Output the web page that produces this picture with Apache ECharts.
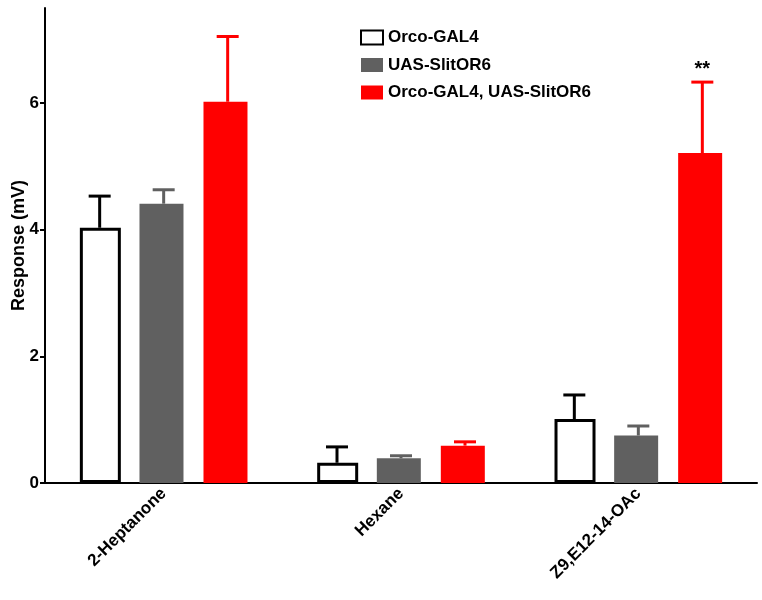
<!DOCTYPE html>
<html><head><meta charset="utf-8">
<script src="https://cdn.jsdelivr.net/npm/echarts@6/dist/echarts.min.js"></script>
<style>html,body{margin:0;padding:0;background:#fff}#c{width:762px;height:600px}</style>
</head><body><div id="c"></div>
<script>
const categories = ['2-Heptanone', 'Hexane', 'Z9,E12-14-OAc'];
const seriesNames = ['Orco-GAL4', 'UAS-SlitOR6', 'Orco-GAL4, UAS-SlitOR6'];
const orcoMean = [4.03, 0.32, 1.01];
const orcoErr  = [0.50, 0.25, 0.38];
const uasMean  = [4.41, 0.39, 0.75];
const uasErr   = [0.22, 0.04, 0.15];
const bothMean = [6.02, 0.59, 5.21];
const bothErr  = [1.03, 0.06, 1.12];
const significance = ['', '', '**'];
const yTicks = [0, 2, 4, 6];

const BAR_W = 44, BAR_GAP = 20;
const colors = ['#ffffff', '#606060', '#ff0000'];
const errColors = ['#000000', '#606060', '#ff0000'];
const means = [orcoMean, uasMean, bothMean];
const errs = [orcoErr, uasErr, bothErr];
const font = '"Liberation Sans", Arial, sans-serif';

const chart = echarts.init(document.getElementById('c'));
const barSeries = seriesNames.map((n, i) => ({
  name: n, type: 'bar', data: means[i], barWidth: i === 0 ? BAR_W - 3 : BAR_W,
  barGap: (BAR_GAP / BAR_W * 100) + '%',
  itemStyle: i === 0 ? {color: '#ffffff', borderColor: '#000', borderWidth: 3} : {color: colors[i]},
  emphasis: {disabled: true}, z: 2
}));
const errSeries = seriesNames.map((n, i) => ({
  type: 'custom', name: n + ' err', z: 3,
  data: categories.map((c, j) => [j, means[i][j], errs[i][j]]),
  renderItem: function (params, api) {
    const j = api.value(0);
    const off = (i - 1) * (BAR_W + BAR_GAP);
    const base = api.coord([j, api.value(1)]);
    const top = api.coord([j, api.value(1) + api.value(2)]);
    const x = base[0] + off;
    const capHalf = 11;
    const st = {stroke: errColors[i], lineWidth: 3};
    const children = [
      {type: 'line', shape: {x1: x, y1: base[1], x2: x, y2: top[1]}, style: st},
      {type: 'line', shape: {x1: x - capHalf, y1: top[1], x2: x + capHalf, y2: top[1]}, style: st}
    ];
    if (i === 2 && significance[j]) {
      children.push({type: 'text', style: {text: significance[j], x: x, y: top[1] - 3, align: 'center', verticalAlign: 'bottom', font: 'bold 20px ' + font, fill: '#000'}});
    }
    return {type: 'group', children: children};
  }
}));

chart.setOption({
  animation: false,
  grid: {left: 45, right: 5, top: 8, bottom: 117, containLabel: false, outerBoundsMode: 'none'},
  legend: {
    data: seriesNames, orient: 'vertical', left: 355, top: 24, itemWidth: 22, itemHeight: 14, itemGap: 10.5,
    icon: 'rect',
    textStyle: {fontFamily: font, fontWeight: 'bold', fontSize: 17, color: '#000'},
    selectedMode: false
  },
  xAxis: {
    type: 'category', data: categories,
    axisLine: {lineStyle: {color: '#000', width: 2}},
    axisTick: {alignWithLabel: true, length: 6, lineStyle: {color: '#000', width: 2}},
    axisLabel: {rotate: 45, fontFamily: font, fontWeight: 'bold', fontSize: 17, color: '#000', margin: 8}
  },
  yAxis: {
    type: 'value', min: 0, max: 7.5,
    name: 'Response (mV)', nameLocation: 'middle', nameGap: 17, nameMoveOverlap: false,
    nameTextStyle: {fontFamily: font, fontWeight: 'bold', fontSize: 18, color: '#000'},
    axisLine: {show: true, lineStyle: {color: '#000', width: 2}},
    axisTick: {show: true, length: 5, lineStyle: {color: '#000', width: 2}, customValues: yTicks},
    axisLabel: {fontFamily: font, fontWeight: 'bold', fontSize: 17, color: '#000', customValues: yTicks, margin: 6},
    splitLine: {show: false}
  },
  series: barSeries.concat(errSeries)
});
</script></body></html>
